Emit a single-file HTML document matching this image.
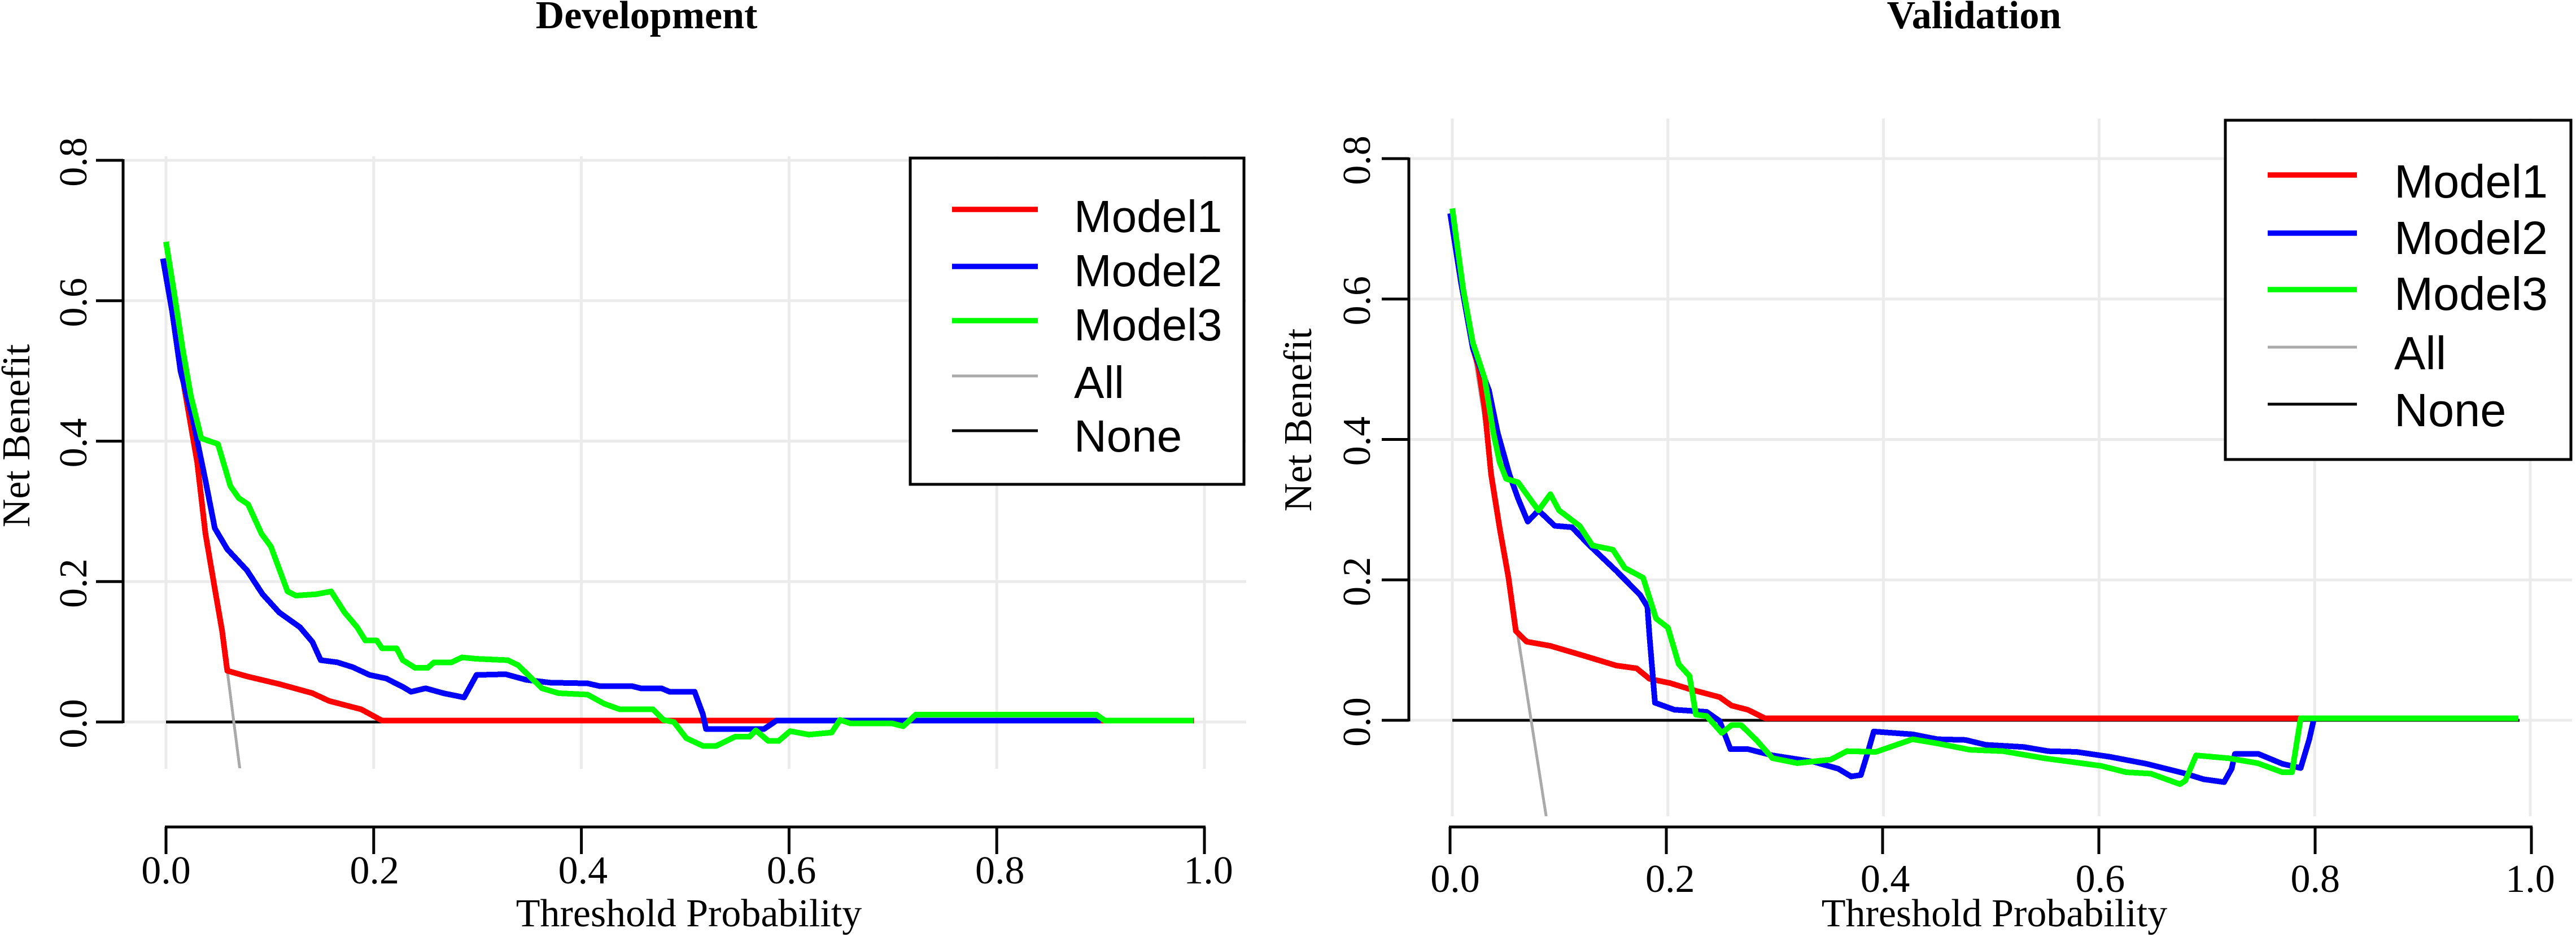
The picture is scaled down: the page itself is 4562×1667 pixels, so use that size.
<!DOCTYPE html>
<html lang="en">
<head>
<meta charset="utf-8">
<title>Decision curves: Development and Validation</title>
<style>
html,body{margin:0;padding:0;background:#fff;}
svg{display:block;}
text{font-family:"Liberation Serif",serif;fill:#000;}
.leg{font-family:"Liberation Sans",sans-serif;}
</style>
</head>
<body>
<svg id="chart" width="4562" height="1667" viewBox="0 0 4562 1667" xmlns="http://www.w3.org/2000/svg">
  <rect width="4562" height="1667" fill="#fff"/>
  <defs>
    <clipPath id="clip-dev"><rect x="218" y="279" width="1990" height="1082"/></clipPath>
    <clipPath id="clip-val"><rect x="2495" y="210" width="2050" height="1236"/></clipPath>
  </defs>

  <g id="panel-dev"></g>
  <g id="panel-val"></g>

  <text x="1145" y="50" font-size="70" font-weight="bold" text-anchor="middle">Development</text>
  <text x="3496" y="50" font-size="70" font-weight="bold" text-anchor="middle">Validation</text>
  <text x="1220" y="1641" font-size="70" text-anchor="middle">Threshold Probability</text>
  <text x="3532" y="1641" font-size="70" text-anchor="middle">Threshold Probability</text>
  <text transform="translate(52,772) rotate(-90)" font-size="70" text-anchor="middle">Net Benefit</text>
  <text transform="translate(2322,744) rotate(-90)" font-size="70" text-anchor="middle">Net Benefit</text>

  <g>
    <rect x="1612" y="280" width="591" height="578" fill="#fff" stroke="#000" stroke-width="5"/>
    <line x1="1686" x2="1838" y1="371" y2="371" stroke="#f00" stroke-width="9.5"/>
    <line x1="1686" x2="1838" y1="472" y2="472" stroke="#00f" stroke-width="9.5"/>
    <line x1="1686" x2="1838" y1="568" y2="568" stroke="#0f0" stroke-width="9.5"/>
    <line x1="1686" x2="1838" y1="666" y2="666" stroke="#aaa" stroke-width="5"/>
    <line x1="1686" x2="1838" y1="763" y2="763" stroke="#000" stroke-width="5"/>
    <text class="leg" x="1902" y="411" font-size="80">Model1</text>
    <text class="leg" x="1902" y="507" font-size="80">Model2</text>
    <text class="leg" x="1902" y="603" font-size="80">Model3</text>
    <text class="leg" x="1902" y="705" font-size="80">All</text>
    <text class="leg" x="1902" y="800" font-size="80">None</text>
  </g>

  <g>
    <rect x="3941" y="213" width="612" height="601" fill="#fff" stroke="#000" stroke-width="5"/>
    <line x1="4016" x2="4174" y1="310" y2="310" stroke="#f00" stroke-width="9.5"/>
    <line x1="4016" x2="4174" y1="413" y2="413" stroke="#00f" stroke-width="9.5"/>
    <line x1="4016" x2="4174" y1="513" y2="513" stroke="#0f0" stroke-width="9.5"/>
    <line x1="4016" x2="4174" y1="615" y2="615" stroke="#aaa" stroke-width="5"/>
    <line x1="4016" x2="4174" y1="716" y2="716" stroke="#000" stroke-width="5"/>
    <text class="leg" x="4240" y="350" font-size="83">Model1</text>
    <text class="leg" x="4240" y="450" font-size="83">Model2</text>
    <text class="leg" x="4240" y="549" font-size="83">Model3</text>
    <text class="leg" x="4240" y="654" font-size="83">All</text>
    <text class="leg" x="4240" y="755" font-size="83">None</text>
  </g>
</svg>

<script>
var xTickValues = [0, 0.2, 0.4, 0.6, 0.8, 1];
var xTickLabels = ["0.0", "0.2", "0.4", "0.6", "0.8", "1.0"];
var yTickValues = [0, 0.2, 0.4, 0.6, 0.8];
var yTickLabels = ["0.0", "0.2", "0.4", "0.6", "0.8"];

// Development panel
var devNoneX = [0, 0.99];
var devNoneY = [0, 0];
var devAllX = [0, 0.059, 0.071, 0.09];
var devAllY = [0.66, 0.073, -0.066, -0.25];
var devModel1X = [0, 0.01, 0.018, 0.03, 0.038, 0.047, 0.054, 0.059, 0.078, 0.109, 0.141, 0.157, 0.188, 0.208, 0.99];
var devModel1Y = [0.66, 0.55, 0.473, 0.37, 0.268, 0.19, 0.13, 0.073, 0.065, 0.054, 0.041, 0.03, 0.018, 0.002, 0.002];
var devModel2X = [-0.003, 0.006, 0.014, 0.026, 0.038, 0.047, 0.059, 0.078, 0.093, 0.109, 0.129, 0.141, 0.149, 0.165, 0.18, 0.196, 0.212, 0.228, 0.236, 0.25, 0.267, 0.287, 0.299, 0.327, 0.347, 0.37, 0.406, 0.418, 0.449, 0.457, 0.477, 0.485, 0.509, 0.517, 0.52, 0.576, 0.588, 0.9];
var devModel2Y = [0.66, 0.584, 0.5, 0.43, 0.344, 0.276, 0.246, 0.216, 0.182, 0.156, 0.135, 0.114, 0.088, 0.085, 0.078, 0.067, 0.062, 0.05, 0.043, 0.048, 0.041, 0.035, 0.067, 0.068, 0.06, 0.056, 0.055, 0.051, 0.051, 0.048, 0.048, 0.043, 0.043, 0.011, -0.01, -0.01, 0.002, 0.002];
var devModel3X = [0, 0.008, 0.016, 0.024, 0.034, 0.05, 0.062, 0.07, 0.079, 0.092, 0.101, 0.117, 0.125, 0.145, 0.159, 0.172, 0.184, 0.192, 0.203, 0.208, 0.222, 0.228, 0.24, 0.252, 0.258, 0.275, 0.285, 0.299, 0.329, 0.339, 0.362, 0.378, 0.406, 0.422, 0.437, 0.469, 0.479, 0.489, 0.501, 0.517, 0.53, 0.548, 0.562, 0.568, 0.58, 0.59, 0.601, 0.619, 0.641, 0.649, 0.659, 0.699, 0.71, 0.722, 0.896, 0.904, 0.989];
var devModel3Y = [0.684, 0.61, 0.532, 0.464, 0.404, 0.396, 0.336, 0.319, 0.31, 0.268, 0.25, 0.186, 0.18, 0.182, 0.186, 0.156, 0.135, 0.116, 0.116, 0.105, 0.105, 0.088, 0.077, 0.077, 0.085, 0.085, 0.092, 0.09, 0.088, 0.081, 0.048, 0.041, 0.039, 0.026, 0.018, 0.018, 0.003, 0, -0.023, -0.034, -0.034, -0.021, -0.021, -0.012, -0.027, -0.027, -0.013, -0.018, -0.015, 0.003, -0.002, -0.002, -0.006, 0.0105, 0.0105, 0.002, 0.002];

// Validation panel
var valNoneX = [0, 0.99];
var valNoneY = [0, 0];
var valAllX = [0, 0.061, 0.087, 0.1];
var valAllY = [0.72, 0.119, -0.136, -0.26];
var valModel1X = [0, 0.01, 0.019, 0.024, 0.03, 0.036, 0.044, 0.052, 0.059, 0.069, 0.091, 0.122, 0.152, 0.171, 0.183, 0.202, 0.221, 0.248, 0.259, 0.274, 0.29, 0.989];
var valModel1Y = [0.72, 0.61, 0.53, 0.505, 0.444, 0.35, 0.273, 0.204, 0.127, 0.112, 0.106, 0.092, 0.078, 0.074, 0.059, 0.053, 0.044, 0.033, 0.021, 0.015, 0.003, 0.003];
var valModel2X = [-0.002, 0.008, 0.019, 0.034, 0.042, 0.053, 0.061, 0.07, 0.08, 0.095, 0.111, 0.126, 0.152, 0.174, 0.181, 0.183, 0.188, 0.206, 0.236, 0.248, 0.258, 0.274, 0.297, 0.335, 0.358, 0.37, 0.379, 0.385, 0.391, 0.427, 0.45, 0.476, 0.495, 0.53, 0.553, 0.579, 0.61, 0.644, 0.678, 0.697, 0.716, 0.723, 0.726, 0.748, 0.77, 0.787, 0.795, 0.799];
var valModel2Y = [0.722, 0.624, 0.53, 0.47, 0.41, 0.35, 0.316, 0.283, 0.299, 0.277, 0.275, 0.251, 0.213, 0.179, 0.162, 0.119, 0.025, 0.015, 0.012, -0.001, -0.041, -0.041, -0.05, -0.059, -0.069, -0.08, -0.078, -0.048, -0.016, -0.02, -0.027, -0.028, -0.035, -0.038, -0.044, -0.045, -0.052, -0.062, -0.075, -0.084, -0.088, -0.069, -0.048, -0.048, -0.062, -0.068, -0.027, 0];
var valModel3X = [0, 0.004, 0.01, 0.019, 0.03, 0.038, 0.044, 0.05, 0.061, 0.076, 0.08, 0.091, 0.099, 0.118, 0.13, 0.149, 0.16, 0.177, 0.189, 0.2, 0.21, 0.22, 0.226, 0.236, 0.25, 0.259, 0.268, 0.282, 0.297, 0.32, 0.351, 0.366, 0.393, 0.427, 0.45, 0.48, 0.511, 0.549, 0.602, 0.625, 0.648, 0.675, 0.68, 0.69, 0.72, 0.747, 0.77, 0.779, 0.787, 0.989];
var valModel3Y = [0.729, 0.683, 0.615, 0.538, 0.487, 0.41, 0.367, 0.344, 0.339, 0.307, 0.299, 0.322, 0.299, 0.277, 0.249, 0.243, 0.217, 0.203, 0.145, 0.132, 0.08, 0.063, 0.008, 0.006, -0.018, -0.007, -0.007, -0.028, -0.054, -0.061, -0.056, -0.044, -0.045, -0.027, -0.033, -0.042, -0.044, -0.054, -0.065, -0.074, -0.076, -0.091, -0.086, -0.05, -0.054, -0.061, -0.074, -0.074, 0.003, 0.003];

var SVG_NS = 'http://www.w3.org/2000/svg';

function make(tag, attrs, parent) {
  var el = document.createElementNS(SVG_NS, tag);
  for (var k in attrs) el.setAttribute(k, attrs[k]);
  parent.appendChild(el);
  return el;
}

function linear(d0, d1, r0, r1) {
  return function (v) { return r0 + (v - d0) / (d1 - d0) * (r1 - r0); };
}

function buildPath(xs, ys, sx, sy) {
  var d = '';
  for (var i = 0; i < xs.length; i++) {
    d += (i ? 'L' : 'M') + sx(xs[i]).toFixed(1) + ' ' + sy(ys[i]).toFixed(1);
  }
  return d;
}

function drawPanel(root, g, series) {
  var sx = linear(0, 1, g.gx0, g.gx1);
  var sy = linear(0, 0.8, g.y0, g.y8);
  var tx = linear(0, 1, g.tx0, g.tx1);
  var lx = linear(0, 1, g.lx0, g.lx1);

  var grid = make('g', { stroke: '#ebebeb', 'stroke-width': 5, fill: 'none' }, root);
  
  
  xTickValues.forEach(function (v) {
    var line = make('line', { x1: sx(v), x2: sx(v), y1: g.gridTop, y2: g.gridBottom }, grid);
    
    
  });
  yTickValues.forEach(function (v) {
    var line = make('line', { x1: g.axisX, x2: g.gridRight, y1: sy(v), y2: sy(v) }, grid);
    
    
  });

  var marks = make('g', { 'clip-path': 'url(#' + g.clip + ')', fill: 'none' }, root);
  
  
  series.forEach(function (s) {
    var p = make('path', {
      d: buildPath(s.x, s.y, sx, sy),
      stroke: s.color,
      'stroke-width': s.width,
      'stroke-linejoin': 'round',
      'shape-rendering': 'crispEdges'
    }, marks);
    
    
  });

  var yAxis = make('g', { stroke: '#000', 'stroke-width': 5 }, root);
  
  
  make('line', { x1: g.axisX, x2: g.axisX, y1: sy(0.8) - 2, y2: sy(0) + 2 }, yAxis);
  yTickValues.forEach(function (v, i) {
    make('line', { x1: g.axisX - 48, x2: g.axisX, y1: sy(v), y2: sy(v) }, yAxis);
    var t = make('text', {
      transform: 'translate(' + g.yLabelX + ',' + (sy(v) + 3) + ') rotate(-90)',
      'font-size': 70,
      'text-anchor': 'middle',
      stroke: 'none'
    }, root);
    
    
    t.textContent = yTickLabels[i];
  });

  var xAxis = make('g', { stroke: '#000', 'stroke-width': 5 }, root);
  
  
  make('line', { x1: tx(0) - 2, x2: tx(1) + 2, y1: g.xAxisY, y2: g.xAxisY }, xAxis);
  xTickValues.forEach(function (v, i) {
    make('line', { x1: tx(v), x2: tx(v), y1: g.xAxisY, y2: g.xAxisY + 48 }, xAxis);
    var t = make('text', {
      x: lx(v),
      y: g.xLabelY,
      'font-size': 70,
      'text-anchor': 'middle',
      stroke: 'none'
    }, root);
    
    
    t.textContent = xTickLabels[i];
  });
}

drawPanel(document.getElementById('panel-dev'), {
  gx0: 294, gx1: 2133, tx0: 294, tx1: 2133, lx0: 294, lx1: 2140,
  y0: 1279, y8: 284, axisX: 218, gridRight: 2207, gridTop: 277, gridBottom: 1362,
  xAxisY: 1465, xLabelY: 1565, yLabelX: 153, clip: 'clip-dev'
}, [
  { name: 'none-curve', x: devNoneX, y: devNoneY, color: '#000', width: 5 },
  { name: 'all-curve', x: devAllX, y: devAllY, color: '#aaa', width: 5 },
  { name: 'model1-curve', x: devModel1X, y: devModel1Y, color: '#f00', width: 10 },
  { name: 'model2-curve', x: devModel2X, y: devModel2Y, color: '#00f', width: 10 },
  { name: 'model3-curve', x: devModel3X, y: devModel3Y, color: '#0f0', width: 10 }
]);

drawPanel(document.getElementById('panel-val'), {
  gx0: 2572, gx1: 4481, tx0: 2568, tx1: 4483, lx0: 2577, lx1: 4481,
  y0: 1276, y8: 281, axisX: 2495, gridRight: 4555, gridTop: 210, gridBottom: 1446,
  xAxisY: 1465, xLabelY: 1580, yLabelX: 2426, clip: 'clip-val'
}, [
  { name: 'none-curve', x: valNoneX, y: valNoneY, color: '#000', width: 5 },
  { name: 'all-curve', x: valAllX, y: valAllY, color: '#aaa', width: 5 },
  { name: 'model1-curve', x: valModel1X, y: valModel1Y, color: '#f00', width: 10 },
  { name: 'model2-curve', x: valModel2X, y: valModel2Y, color: '#00f', width: 10 },
  { name: 'model3-curve', x: valModel3X, y: valModel3Y, color: '#0f0', width: 10 }
]);
</script>
</body>
</html>
